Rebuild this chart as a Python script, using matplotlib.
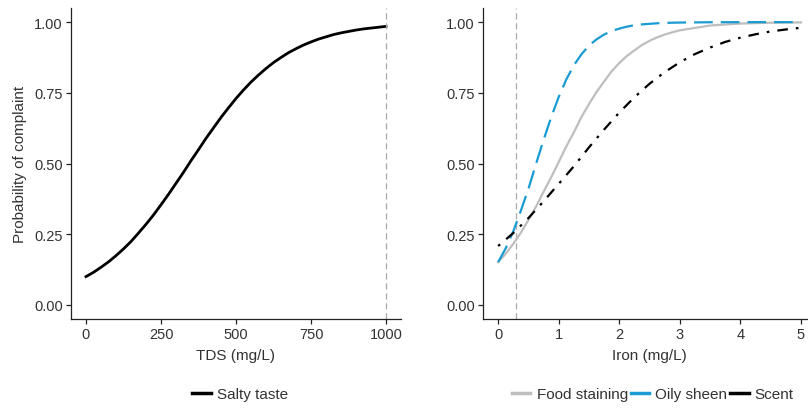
import matplotlib
matplotlib.use("Agg")
import matplotlib.pyplot as plt
from matplotlib.lines import Line2D

plt.rcParams["font.family"] = ["Liberation Sans", "DejaVu Sans"]

# values
tds = [0, 25, 50, 75, 100, 125, 150, 175, 200, 225, 250, 275, 300, 325, 350,
       375, 400, 425, 450, 475, 500, 525, 550, 575, 600, 625, 650, 675, 700,
       725, 750, 775, 800, 825, 850, 875, 900, 925, 950, 975, 1000]
salty = [0.100, 0.115, 0.133, 0.152, 0.174, 0.198, 0.224, 0.254, 0.285, 0.318,
         0.354, 0.391, 0.430, 0.469, 0.510, 0.549, 0.589, 0.626, 0.663, 0.697,
         0.730, 0.760, 0.788, 0.813, 0.836, 0.857, 0.875, 0.892, 0.906, 0.919,
         0.930, 0.940, 0.948, 0.956, 0.962, 0.967, 0.972, 0.976, 0.979, 0.982, 0.985]

iron_fine = [0.0, 0.125, 0.25, 0.375, 0.5, 0.625, 0.75, 0.875, 1.0, 1.125, 1.25,
             1.375, 1.5, 1.625, 1.75, 1.875, 2.0, 2.125, 2.25, 2.375, 2.5, 2.625,
             2.75, 2.875, 3.0, 3.5, 4.0, 4.5, 5.0]
food = [0.151, 0.181, 0.216, 0.255, 0.300, 0.347, 0.400, 0.451, 0.505, 0.560, 0.610,
        0.664, 0.710, 0.753, 0.790, 0.826, 0.855, 0.880, 0.900, 0.919, 0.934, 0.946,
        0.956, 0.964, 0.971, 0.988, 0.995, 0.998, 0.999]
oily = [0.151, 0.200, 0.260, 0.333, 0.410, 0.498, 0.583, 0.663, 0.735, 0.797, 0.847,
        0.886, 0.917, 0.939, 0.956, 0.969, 0.977, 0.984, 0.989, 0.992, 0.994, 0.996,
        0.997, 0.998, 0.9985, 0.9996, 0.9999, 1.0, 1.0]

iron = [0.0, 0.25, 0.5, 0.75, 1.0, 1.25, 1.5, 1.75, 2.0, 2.25, 2.5,
        2.75, 3.0, 3.25, 3.5, 3.75, 4.0, 4.25, 4.5, 4.75, 5.0]
scent = [0.208, 0.254, 0.307, 0.366, 0.428, 0.490, 0.557, 0.620, 0.680, 0.734, 0.782,
         0.823, 0.858, 0.887, 0.910, 0.930, 0.945, 0.957, 0.967, 0.974, 0.980]

tds_guide = 1000
iron_guide = 0.3

y_ticks = [0.0, 0.25, 0.5, 0.75, 1.0]
y_labels = ["0.00", "0.25", "0.50", "0.75", "1.00"]

GREY = "#bebebe"
BLUE = "#1a9bd1"
TEXT = "#333333"

fig = plt.figure(figsize=(8.08, 4.10), dpi=100)
W, H = 808.0, 410.0
bottom = (H - 320.0) / H
height = 311.0 / H
ax1 = fig.add_axes([71.0 / W, bottom, 330.0 / W, height])
ax2 = fig.add_axes([483.0 / W, bottom, 333.0 / W, height])


def style_axes(ax):
    for side in ["top", "right"]:
        ax.spines[side].set_visible(False)
    for side in ["left", "bottom"]:
        ax.spines[side].set_linewidth(0.9)
        ax.spines[side].set_color("#222222")
    ax.set_ylim(-0.05, 1.05)
    ax.set_yticks(y_ticks)
    ax.set_yticklabels(y_labels)
    ax.tick_params(axis="both", direction="out", length=3.5, width=0.9,
                   colors="#222222", labelcolor=TEXT, labelsize=10.5, pad=2.5)


style_axes(ax1)
ax1.plot(tds, salty, color="black", lw=2.0, solid_joinstyle="round")
ax1.axvline(tds_guide, color="#aaaaaa", lw=0.9, linestyle=(0, (5, 3)))
ax1.set_xlim(-50, 1050)
ax1.set_xticks([0, 250, 500, 750, 1000])
ax1.set_xlabel("TDS (mg/L)", fontsize=11, color=TEXT, labelpad=5)
ax1.set_ylabel("Probability of complaint", fontsize=11, color=TEXT, labelpad=5)

style_axes(ax2)
ax2.axvline(iron_guide, color="#aaaaaa", lw=0.9, linestyle=(0, (5, 3)))
ax2.plot(iron_fine, food, color=GREY, lw=1.6, solid_joinstyle="round")
ax2.plot(iron_fine, oily, color=BLUE, lw=1.6, linestyle=(0, (8.4, 3.6)))
ax2.plot(iron, scent, color="black", lw=1.6, linestyle=(0, (1.2, 3.6, 4.8, 3.6)))
ax2.set_xlim(-0.25, 5.25)
ax2.set_xticks([0, 1, 2, 3, 4, 5])
ax2.set_xlabel("Iron (mg/L)", fontsize=11, color=TEXT, labelpad=5)

leg_y = (H - 395.5) / H
h1 = [Line2D([], [], color="black", lw=2.5)]
ax1.legend(h1, ["Salty taste"], loc="center", bbox_to_anchor=(240.0 / W, leg_y),
           bbox_transform=fig.transFigure, frameon=False, fontsize=11,
           handlelength=1.2, handletextpad=0.4, labelcolor=TEXT)

h2 = [Line2D([], [], color=GREY, lw=2.5),
      Line2D([], [], color=BLUE, lw=2.5),
      Line2D([], [], color="black", lw=2.5)]
ax2.legend(h2, ["Food staining", "Oily sheen", "Scent"], loc="center",
           bbox_to_anchor=(653.0 / W, leg_y), bbox_transform=fig.transFigure,
           frameon=False, fontsize=11, ncol=3, handlelength=1.2,
           handletextpad=0.4, columnspacing=0.2, labelcolor=TEXT)

fig.savefig("out.png", dpi=100)
